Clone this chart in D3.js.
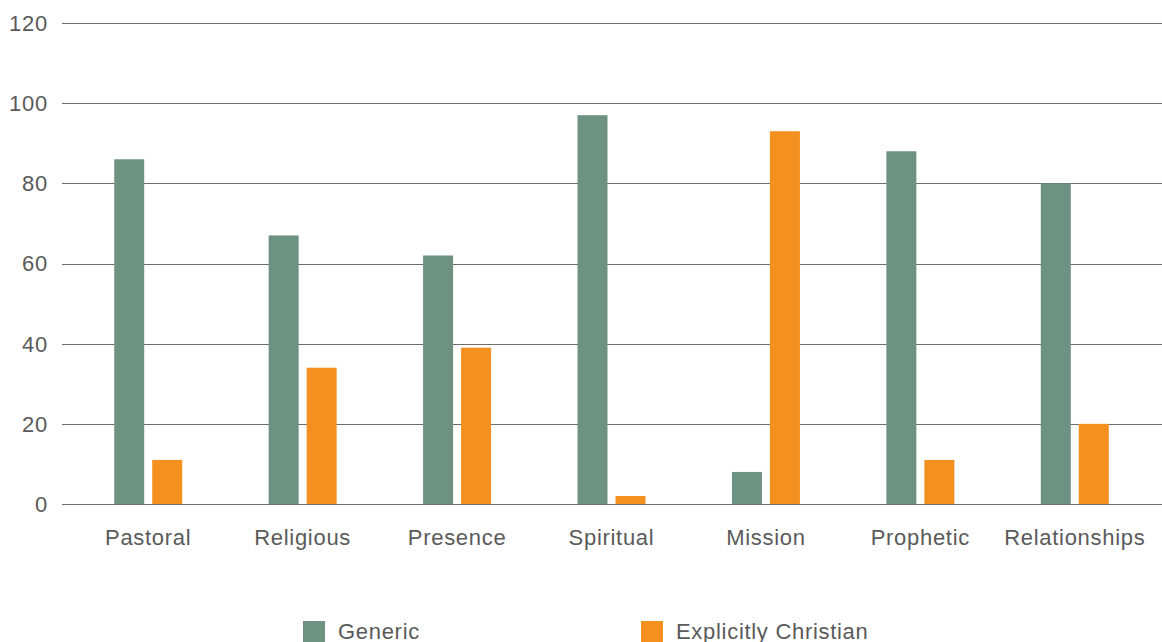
<!DOCTYPE html>
<html>
<head>
<meta charset="utf-8">
<script src="https://cdn.jsdelivr.net/npm/d3@7"></script>
<style>
  body { margin: 0; background: #fff; }
  svg text { font-family: "Liberation Sans", Arial, Helvetica, sans-serif; fill: #5a5a5a; }
</style>
</head>
<body>
<div id="chart"></div>
<script>
var categories = ["Pastoral", "Religious", "Presence", "Spiritual", "Mission", "Prophetic", "Relationships"];
var seriesNames = ["Generic", "Explicitly Christian"];
var generic = [86, 67, 62, 97, 8, 88, 80];
var christian = [11, 34, 39, 2, 93, 11, 20];
var yTicks = [0, 20, 40, 60, 80, 100, 120];

var width = 1162;
var height = 642;
var colors = ["#6e9282", "#f39020"];

var svg = d3.select("#chart")
  .append("svg")
  .attr("width", width)
  .attr("height", height);

var x = d3.scaleBand()
  .domain(categories)
  .range([71, 1152]);

var y = d3.scaleLinear()
  .domain([0, 120])
  .range([504, 23]);

// gridlines
svg.append("g")
  .selectAll("line")
  .data(yTicks)
  .enter().append("line")
  .attr("x1", 62)
  .attr("x2", width)
  .attr("y1", function(d) { return Math.round(y(d)) + 0.5; })
  .attr("y2", function(d) { return Math.round(y(d)) + 0.5; })
  .attr("stroke", "#6d6d6d")
  .attr("stroke-width", 1);

// y labels
svg.append("g")
  .selectAll("text")
  .data(yTicks)
  .enter().append("text")
  .attr("x", 48)
  .attr("y", function(d) { return y(d); })
  .attr("dy", "0.36em")
  .attr("text-anchor", "end")
  .style("font-size", "22px")
  .style("letter-spacing", "0.8px")
  .text(function(d) { return d; });

var barW = 30, gap = 8;
var rows = categories.map(function(c, i) { return { cat: c, vals: [generic[i], christian[i]] }; });

var groups = svg.append("g")
  .selectAll("g")
  .data(rows)
  .enter().append("g")
  .attr("transform", function(d) {
    return "translate(" + (x(d.cat) + x.bandwidth() / 2) + ",0)";
  });

groups.selectAll("rect")
  .data(function(d) { return d.vals; })
  .enter().append("rect")
  .attr("x", function(d, i) { return i === 0 ? -gap / 2 - barW : gap / 2; })
  .attr("width", barW)
  .attr("y", function(d) { return y(d); })
  .attr("height", function(d) { return y(0) - y(d); })
  .attr("fill", function(d, i) { return colors[i]; });

// x labels
svg.append("g")
  .selectAll("text")
  .data(categories)
  .enter().append("text")
  .attr("x", function(d) { return x(d) + x.bandwidth() / 2; })
  .attr("y", 545)
  .attr("text-anchor", "middle")
  .style("font-size", "22px")
  .style("letter-spacing", "0.7px")
  .text(function(d) { return d; });

// legend
var legendX = [303, 641];
var legend = svg.append("g")
  .selectAll("g")
  .data(seriesNames)
  .enter().append("g")
  .attr("transform", function(d, i) { return "translate(" + legendX[i] + ",621)"; });

legend.append("rect")
  .attr("width", 22)
  .attr("height", 22)
  .attr("fill", function(d, i) { return colors[i]; });

legend.append("text")
  .attr("x", 35)
  .attr("y", 18)
  .style("font-size", "22px")
  .style("letter-spacing", "0.7px")
  .text(function(d) { return d; });
</script>
</body>
</html>
